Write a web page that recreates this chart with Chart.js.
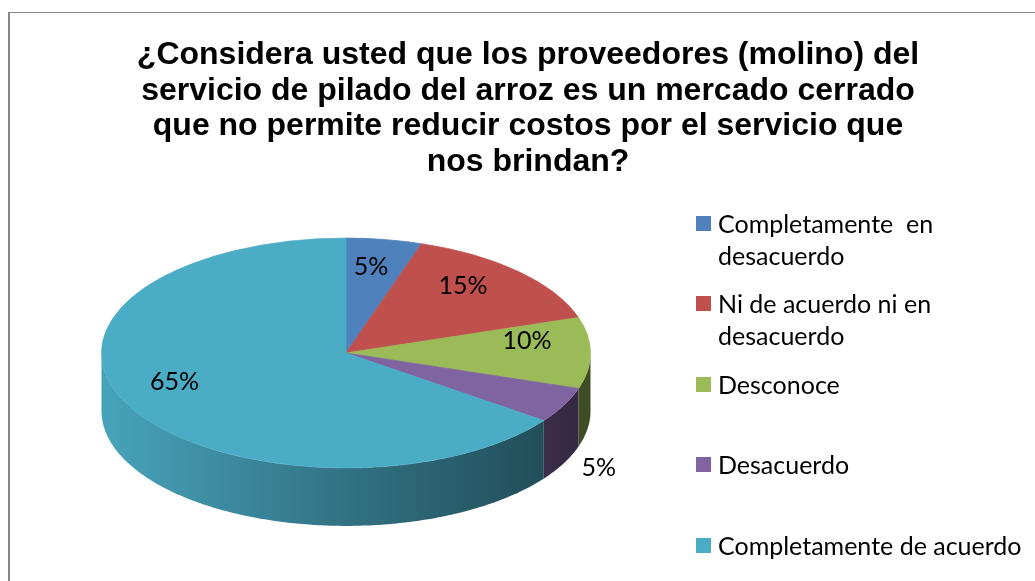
<!DOCTYPE html>
<html>
<head>
<meta charset="utf-8">
<script src="https://cdn.jsdelivr.net/npm/chart.js@4.4.1/dist/chart.umd.min.js"></script>
<style>
html,body{margin:0;padding:0;background:#fff;overflow:hidden;width:1035px;height:581px;}
#frame{position:absolute;left:8px;top:12px;width:1200px;height:800px;border-left:2px solid #878787;border-top:1px solid #878787;box-sizing:border-box;}
#c{position:absolute;left:0;top:0;}
#title{position:absolute;left:128px;width:800px;top:36px;text-align:center;white-space:nowrap;
  font-family:"Liberation Sans",Arial,sans-serif;font-weight:bold;font-size:32px;line-height:35.5px;color:#000;}
.item{position:absolute;left:696px;width:340px;font-family:Lato,"Open Sans",sans-serif;font-size:25px;line-height:32px;color:#000;}
.item .sw{position:absolute;left:0;top:9px;width:15px;height:15px;}
.item .tx{position:absolute;left:22px;width:316px;white-space:pre-wrap;}
</style>
</head>
<body>
<div id="frame"></div>
<canvas id="c" width="1035" height="581"></canvas>
<div id="title"></div>
<div id="legend"></div>
<script>
// ---- data ----
const categories = ['Completamente  en desacuerdo', 'Ni de acuerdo ni en desacuerdo', 'Desconoce', 'Desacuerdo', 'Completamente de acuerdo'];
const percentages = [5, 15, 10, 5, 65];
const sliceColors = ['#4F81BD', '#C0504D', '#9BBB59', '#8064A2', '#4BACC6'];
const titleLines = [
  '¿Considera usted que los proveedores (molino) del',
  'servicio de pilado del arroz es un mercado cerrado',
  'que no permite reducir costos por el servicio que',
  'nos brindan?'
];

// ---- title & legend (HTML text) ----
document.getElementById('title').innerHTML = titleLines.map(l => l.replace(/&/g,'&amp;').replace(/</g,'&lt;')).join('<br>');
const legend = document.getElementById('legend');
categories.forEach((cat, i) => {
  const it = document.createElement('div');
  it.className = 'item';
  it.style.top = (206.7 + i * 80.5) + 'px';
  const sw = document.createElement('div'); sw.className = 'sw'; sw.style.background = sliceColors[i];
  const tx = document.createElement('div'); tx.className = 'tx'; tx.textContent = cat;
  it.appendChild(sw); it.appendChild(tx); legend.appendChild(it);
});

// ---- 3D pie look ----
const CENTER_Y = 353;      // screen y of the top face centre
const TILT = 0.47;         // vertical squash of the top face
const DEPTH = 58;          // thickness of the pie
function shade(hex, f) {
  const n = parseInt(hex.slice(1), 16);
  const r = (n >> 16) & 255, g = (n >> 8) & 255, b = n & 255;
  return 'rgb(' + Math.round(r * f) + ',' + Math.round(g * f) + ',' + Math.round(b * f) + ')';
}

const pie3d = {
  id: 'pie3d',
  beforeDatasetsDraw(chart) {
    const ctx = chart.ctx;
    const arcs = chart.getDatasetMeta(0).data;
    const colors = chart.data.datasets[0].backgroundColor;
    const TWO_PI = Math.PI * 2;
    arcs.forEach((arc, i) => {
      const p = arc.getProps(['x', 'y', 'startAngle', 'endAngle', 'outerRadius'], true);
      const R = p.outerRadius, ry = R * TILT;
      for (let k = -1; k <= 1; k++) {
        const lo = Math.max(p.startAngle, k * TWO_PI), hi = Math.min(p.endAngle, k * TWO_PI + Math.PI);
        if (hi <= lo) continue;
        const n = Math.max(2, Math.ceil((hi - lo) * 80));
        ctx.beginPath();
        for (let j = 0; j <= n; j++) {
          const t = lo + (hi - lo) * j / n;
          const px = p.x + R * Math.cos(t), py = CENTER_Y + ry * Math.sin(t);
          if (j === 0) ctx.moveTo(px, py); else ctx.lineTo(px, py);
        }
        for (let j = n; j >= 0; j--) {
          const t = lo + (hi - lo) * j / n;
          ctx.lineTo(p.x + R * Math.cos(t), CENTER_Y + ry * Math.sin(t) + DEPTH);
        }
        ctx.closePath();
        const g = ctx.createLinearGradient(p.x - R, 0, p.x + R, 0);
        g.addColorStop(0, shade(colors[i], 0.95));
        g.addColorStop(0.5, shade(colors[i], 0.66));
        g.addColorStop(1, shade(colors[i], 0.40));
        ctx.fillStyle = g;
        ctx.fill();
      }
    });
    const cy0 = arcs[0].y;
    ctx.save();
    ctx.translate(0, CENTER_Y);
    ctx.scale(1, TILT);
    ctx.translate(0, -cy0);
  },
  afterDatasetsDraw(chart) {
    const ctx = chart.ctx;
    ctx.restore();
    const arcs = chart.getDatasetMeta(0).data;
    const vals = chart.data.datasets[0].data;
    ctx.save();
    ctx.font = '25px Lato, "Open Sans", sans-serif';
    ctx.fillStyle = '#000';
    ctx.textAlign = 'center';
    ctx.textBaseline = 'middle';
    arcs.forEach((arc, i) => {
      const p = arc.getProps(['x', 'startAngle', 'endAngle', 'outerRadius'], true);
      const R = p.outerRadius, ry = R * TILT;
      const mid = (p.startAngle + p.endAngle) / 2, c = Math.cos(mid), s = Math.sin(mid);
      let lx, ly;
      if (vals[i] <= 5 && s > 0) {
        lx = p.x + 1.16 * R * c;
        ly = CENTER_Y + 1.1 * ry * s + DEPTH;
      } else {
        const f = 0.74, w = 1 - 0.18 * f * s;
        lx = p.x + R * f * c / w;
        ly = CENTER_Y - 12 + ry * f * s / w;
      }
      ctx.fillText(vals[i] + '%', lx, ly);
    });
    ctx.restore();
  }
};

new Chart(document.getElementById('c'), {
  type: 'pie',
  data: {
    labels: categories,
    datasets: [{
      data: percentages,
      backgroundColor: sliceColors,
      borderColor: sliceColors,
      borderWidth: 1,
      hoverOffset: 0,
      offset: 0
    }]
  },
  options: {
    responsive: false,
    animation: false,
    events: [],
    layout: { padding: { left: 101, right: 444, top: 45, bottom: 46 } },
    plugins: { legend: { display: false }, title: { display: false }, tooltip: { enabled: false } }
  },
  plugins: [pie3d]
});
</script>
</body>
</html>
